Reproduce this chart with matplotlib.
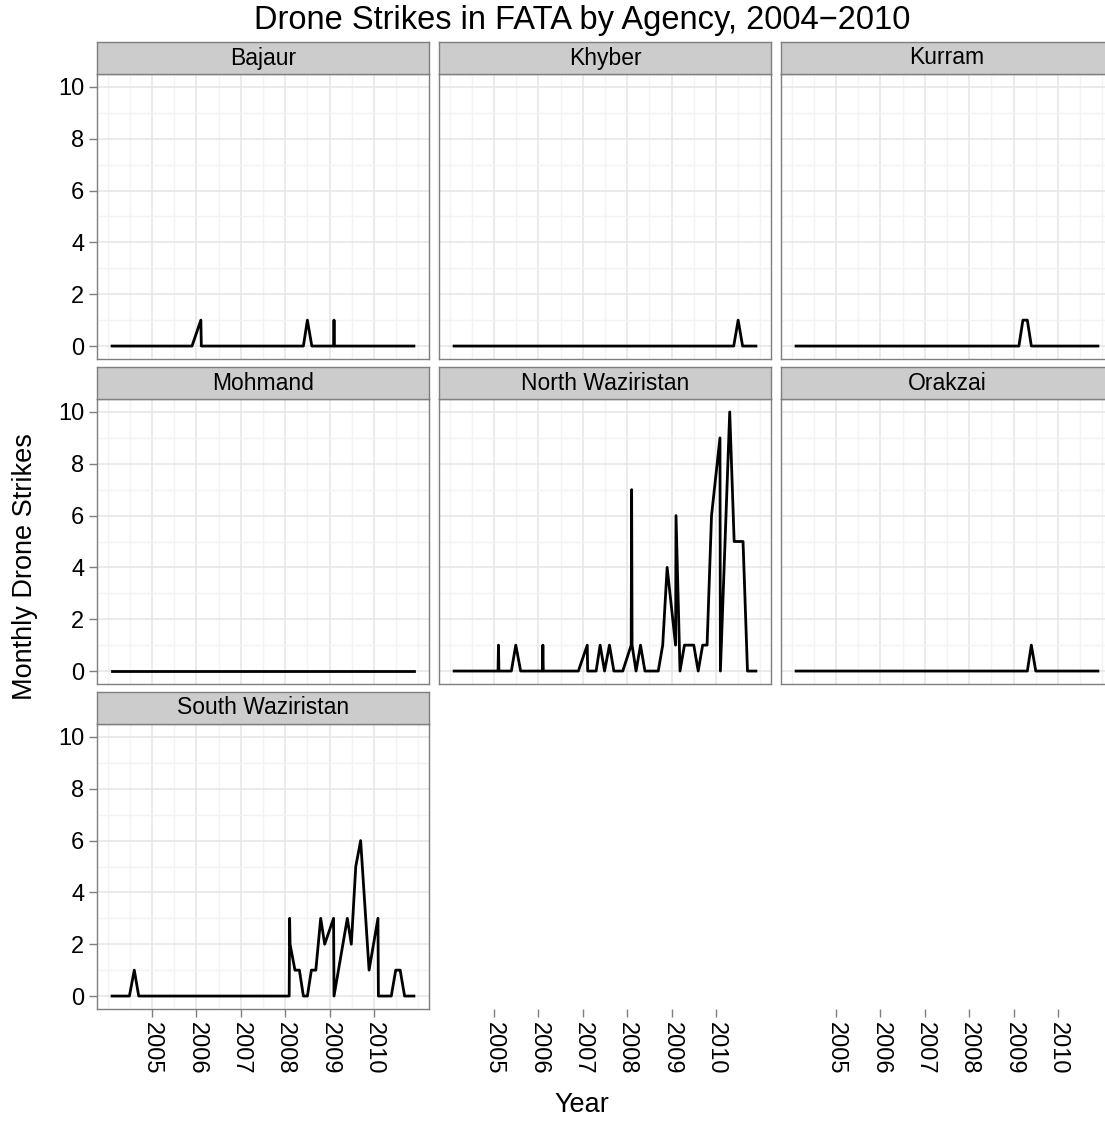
import numpy as np
import matplotlib
matplotlib.use("Agg")
import matplotlib.pyplot as plt

plt.rcParams['font.family'] = ['Liberation Sans', 'DejaVu Sans']

# monthly strike counts per agency, x in decimal years
agencies = ["Bajaur", "Khyber", "Kurram", "Mohmand", "North Waziristan", "Orakzai", "South Waziristan"]

bajaur_year = [2004.10, 2005.90, 2006.10, 2006.11, 2008.41, 2008.50, 2008.60, 2009.09, 2009.10, 2009.11, 2010.90]
bajaur_n = [0, 0, 1, 0, 0, 1, 0, 0, 1, 0, 0]

khyber_year = [2004.10, 2010.40, 2010.50, 2010.60, 2010.90]
khyber_n = [0, 0, 1, 0, 0]

kurram_year = [2004.10, 2009.12, 2009.21, 2009.31, 2009.40, 2010.90]
kurram_n = [0, 0, 1, 1, 0, 0]

mohmand_year = [2004.10, 2010.90]
mohmand_n = [0, 0]

north_year = [2004.10, 2005.09, 2005.10, 2005.11, 2005.39, 2005.49, 2005.60, 2006.09, 2006.10, 2006.11,
              2006.90, 2007.10, 2007.11, 2007.30, 2007.39, 2007.49, 2007.60, 2007.70, 2007.90, 2008.09,
              2008.10, 2008.11, 2008.20, 2008.30, 2008.40, 2008.70, 2008.80, 2008.90, 2009.09, 2009.10,
              2009.19, 2009.29, 2009.50, 2009.60, 2009.70, 2009.80, 2009.90, 2010.09, 2010.10, 2010.31,
              2010.41, 2010.61, 2010.71, 2010.90]
north_n = [0, 0, 1, 0, 0, 1, 0, 0, 1, 0,
           0, 1, 0, 0, 1, 0, 1, 0, 0, 1,
           7, 1, 0, 1, 0, 0, 1, 4, 1, 6,
           0, 1, 1, 0, 1, 1, 6, 9, 0, 10,
           5, 5, 0, 0]

orakzai_year = [2004.10, 2009.31, 2009.40, 2009.50, 2010.90]
orakzai_n = [0, 0, 1, 0, 0]

south_year = [2004.10, 2004.49, 2004.60, 2004.70, 2008.09, 2008.10, 2008.11, 2008.22, 2008.32, 2008.41,
              2008.50, 2008.59, 2008.69, 2008.80, 2008.89, 2009.09, 2009.10, 2009.40, 2009.49, 2009.59,
              2009.70, 2009.89, 2010.09, 2010.10, 2010.39, 2010.49, 2010.59, 2010.69, 2010.90]
south_n = [0, 0, 1, 0, 0, 3, 2, 1, 1, 0,
           0, 1, 1, 3, 2, 3, 0, 3, 2, 5,
           6, 1, 3, 0, 0, 1, 1, 0, 0]

series = [(bajaur_year, bajaur_n), (khyber_year, khyber_n), (kurram_year, kurram_n),
          (mohmand_year, mohmand_n), (north_year, north_n), (orakzai_year, orakzai_n),
          (south_year, south_n)]

year_ticks = [2005, 2006, 2007, 2008, 2009, 2010]
count_ticks = [0, 2, 4, 6, 8, 10]

W, H = 1105, 1124
fig = plt.figure(figsize=(W / 100, H / 100), dpi=100)

# ggplot-like scale expansion (5%)
all_x = np.concatenate([np.array(s[0]) for s in series])
x0, x1 = all_x.min(), all_x.max()
xpad = 0.05 * (x1 - x0)
xlim = (x0 - xpad, x1 + xpad)
ylim = (-0.5, 10.5)

col_left = [97, 439, 781]
panel_w = 332
panel_top = [74, 399, 724]
panel_h = 285
strip_h = 32
border = '#7F7F7F'


def px_axes(left, top, w, h):
    return fig.add_axes([left / W, 1 - (top + h) / H, w / W, h / H])


def style_ticks(ax):
    ax.tick_params(which='major', length=6, width=1, color=border, labelsize=17, pad=3)
    ax.tick_params(which='minor', length=0)


for i, name in enumerate(agencies):
    r, c = divmod(i, 3)
    ax = px_axes(col_left[c], panel_top[r], panel_w, panel_h)
    yrs, n = series[i]
    ax.plot(yrs, n, color='black', lw=2.0, zorder=3)
    ax.set_xlim(xlim)
    ax.set_ylim(ylim)
    ax.set_xticks(year_ticks)
    ax.set_xticks(np.arange(2004, 2011.5, 0.5), minor=True)
    ax.set_yticks(count_ticks)
    ax.set_yticks([1, 3, 5, 7, 9], minor=True)
    ax.grid(which='major', color='#E5E5E5', lw=1.1, zorder=0)
    ax.grid(which='minor', color='#F3F3F3', lw=1.0, zorder=0)
    ax.set_axisbelow(True)
    for s in ax.spines.values():
        s.set_color(border)
        s.set_linewidth(1)
    style_ticks(ax)
    if c != 0:
        ax.tick_params(axis='y', which='both', left=False, labelleft=False)
    if r != 2:
        ax.tick_params(axis='x', which='both', bottom=False, labelbottom=False)
    else:
        ax.set_xticklabels([str(y) for y in year_ticks], rotation=270, va='top', ha='center')

    # facet strip
    st = px_axes(col_left[c], panel_top[r] - strip_h, panel_w, strip_h)
    st.set_facecolor('#CCCCCC')
    st.set_xticks([])
    st.set_yticks([])
    for s in st.spines.values():
        s.set_color(border)
        s.set_linewidth(1)
    st.text(0.5, 0.5, name, ha='center', va='center', fontsize=16.5, transform=st.transAxes)

# x axes for the empty slots in the last row
for c in [1, 2]:
    ax = px_axes(col_left[c], panel_top[2], panel_w, panel_h)
    ax.set_xlim(xlim)
    ax.set_ylim(ylim)
    ax.patch.set_visible(False)
    for s in ax.spines.values():
        s.set_visible(False)
    ax.set_yticks([])
    ax.set_xticks(year_ticks)
    style_ticks(ax)
    ax.set_xticklabels([str(y) for y in year_ticks], rotation=270, va='top', ha='center')

fig.text(582 / W, 1 - 20 / H, "Drone Strikes in FATA by Agency, 2004\u22122010",
         ha='center', va='center', fontsize=23.5)
fig.text(582 / W, 1 - 1105 / H, "Year", ha='center', va='center', fontsize=19.5)
fig.text(25 / W, 1 - 567 / H, "Monthly Drone Strikes", ha='center', va='center',
         rotation=90, fontsize=19.5)

fig.savefig("out.png", dpi=100)
